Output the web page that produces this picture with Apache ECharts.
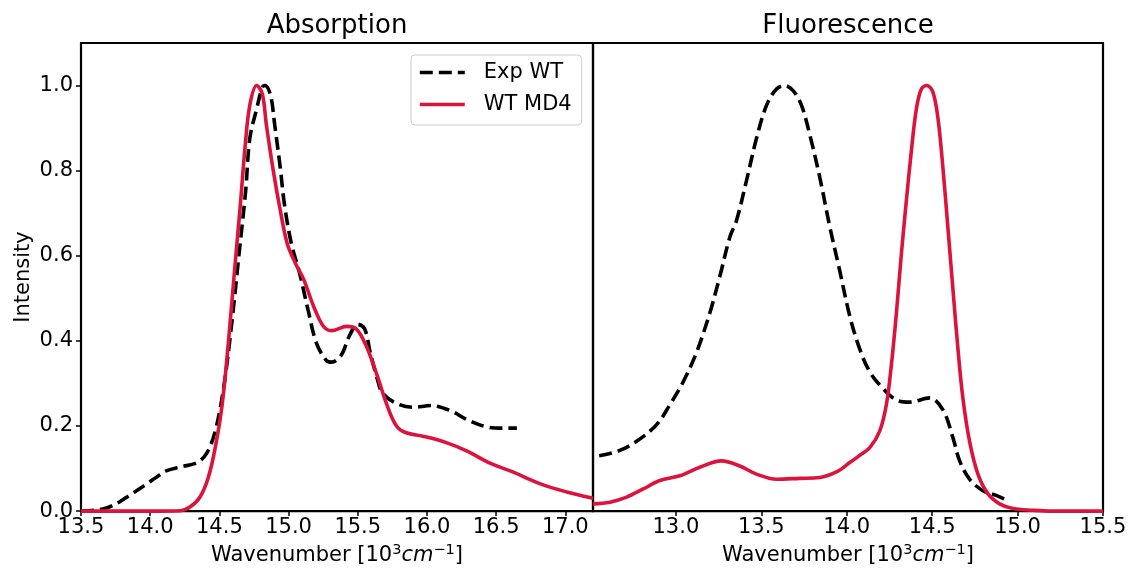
<!DOCTYPE html>
<html>
<head>
<meta charset="utf-8">
<script src="https://cdn.jsdelivr.net/npm/echarts@6/dist/echarts.min.js"></script>
<style>
  html, body { margin: 0; padding: 0; background: #fff; }
  #chart { width: 1131px; height: 574px; }
</style>
</head>
<body>
<div id="chart"></div>
<script>
// Absorption panel, [wavenumber (10^3 cm^-1), intensity]
const ABS_EXP = [
  [13.50, 0.000], [13.60, 0.002], [13.69, 0.008], [13.78, 0.022], [13.85, 0.037],
  [13.92, 0.052], [13.98, 0.065], [14.05, 0.081], [14.12, 0.095], [14.22, 0.104],
  [14.34, 0.114], [14.41, 0.137], [14.47, 0.188], [14.53, 0.288], [14.59, 0.443],
  [14.64, 0.598], [14.69, 0.753], [14.72, 0.876], [14.77, 0.946], [14.81, 0.996],
  [14.83, 1.000], [14.87, 0.977], [14.90, 0.907], [14.94, 0.807], [14.97, 0.721],
  [15.02, 0.629], [15.08, 0.559], [15.14, 0.474], [15.20, 0.396], [15.27, 0.355],
  [15.31, 0.350], [15.38, 0.366], [15.44, 0.412], [15.50, 0.439], [15.55, 0.428],
  [15.59, 0.373], [15.64, 0.312], [15.68, 0.277], [15.78, 0.253], [15.90, 0.244],
  [16.03, 0.248], [16.17, 0.236], [16.29, 0.215], [16.43, 0.198], [16.55, 0.195],
  [16.65, 0.195],
];
const ABS_MD4 = [
  [13.50, 0.000], [14.00, 0.000], [14.22, 0.001], [14.29, 0.010], [14.36, 0.033],
  [14.42, 0.079], [14.47, 0.149], [14.52, 0.250], [14.565, 0.396], [14.61, 0.567],
  [14.65, 0.714], [14.685, 0.853], [14.72, 0.954], [14.77, 1.000], [14.81, 0.981],
  [14.84, 0.907], [14.89, 0.799], [14.94, 0.707], [14.99, 0.629], [15.05, 0.582],
  [15.11, 0.544], [15.18, 0.482], [15.25, 0.435], [15.31, 0.424], [15.42, 0.434],
  [15.49, 0.428], [15.56, 0.389], [15.64, 0.319], [15.71, 0.250], [15.78, 0.200],
  [15.85, 0.184], [15.97, 0.176], [16.14, 0.161], [16.29, 0.141], [16.46, 0.112],
  [16.62, 0.092], [16.82, 0.064], [17.01, 0.045], [17.20, 0.030],
];

// Fluorescence panel
const FLU_EXP = [
  [12.551, 0.130], [12.662, 0.141], [12.770, 0.164], [12.887, 0.203], [12.965, 0.250],
  [13.043, 0.304], [13.121, 0.373], [13.199, 0.466], [13.257, 0.551], [13.316, 0.644],
  [13.355, 0.683], [13.413, 0.776], [13.472, 0.876], [13.531, 0.954], [13.589, 0.992],
  [13.637, 1.000], [13.686, 0.988], [13.735, 0.954], [13.784, 0.884], [13.842, 0.785],
  [13.900, 0.670], [13.959, 0.565], [14.018, 0.458], [14.076, 0.381], [14.135, 0.327],
  [14.213, 0.288], [14.291, 0.261], [14.368, 0.256], [14.485, 0.266], [14.563, 0.238],
  [14.622, 0.172], [14.661, 0.118], [14.719, 0.075], [14.797, 0.048], [14.875, 0.037],
  [14.943, 0.025],
];
const FLU_MD4 = [
  [12.515, 0.017], [12.614, 0.021], [12.712, 0.033], [12.809, 0.052], [12.906, 0.072],
  [13.023, 0.083], [13.140, 0.103], [13.267, 0.118], [13.374, 0.106], [13.472, 0.087],
  [13.589, 0.075], [13.725, 0.077], [13.842, 0.079], [13.940, 0.092], [14.018, 0.114],
  [14.076, 0.131], [14.135, 0.149], [14.193, 0.188], [14.232, 0.250], [14.261, 0.342],
  [14.291, 0.466], [14.320, 0.605], [14.349, 0.729], [14.378, 0.845], [14.408, 0.946],
  [14.437, 0.992], [14.469, 1.000], [14.504, 0.985], [14.534, 0.923], [14.563, 0.807],
  [14.592, 0.667], [14.622, 0.520], [14.651, 0.381], [14.680, 0.265], [14.719, 0.164],
  [14.768, 0.087], [14.826, 0.041], [14.895, 0.017], [14.973, 0.006], [15.090, 0.002],
  [15.200, 0.000], [15.500, 0.000],
];

// Tick values
const ABS_X_TICKS = [13.5, 14.0, 14.5, 15.0, 15.5, 16.0, 16.5, 17.0];
const FLU_X_TICKS = [13.0, 13.5, 14.0, 14.5, 15.0, 15.5];
const Y_TICKS = [0, 0.2, 0.4, 0.6, 0.8, 1.0];

const FONT = 'DejaVu Sans';
const RED = '#DC143C';
const LINE_W = 3.6;
const DASH = [13, 6];

const nameRich = {
  sup: { fontFamily: FONT, fontSize: 14.5, lineHeight: 14, verticalAlign: 'top', color: '#000' },
  it:  { fontFamily: FONT, fontSize: 21, fontStyle: 'italic', lineHeight: 26, color: '#000' },
};

function xAxisFor(gridIndex, min, max, ticks) {
  return {
    type: 'value',
    gridIndex,
    min,
    max,
    name: 'Wavenumber [10{sup|3}{it|cm}{sup|\u22121}]',
    nameLocation: 'middle',
    nameGap: 31,
    nameTextStyle: { fontFamily: FONT, fontSize: 21, color: '#000', lineHeight: 26, rich: nameRich },
    axisLine: { show: false },
    axisTick: { show: true, length: 5, lineStyle: { color: '#000', width: 1.5 }, customValues: ticks },
    axisLabel: {
      fontFamily: FONT, fontSize: 21, color: '#000', margin: 6,
      customValues: ticks,
      formatter: (v) => v.toFixed(1),
    },
    splitLine: { show: false },
  };
}

function lineSeries(name, xi, data, color, dashed) {
  return {
    name, type: 'line', xAxisIndex: xi, yAxisIndex: xi, data,
    smooth: 0.35, symbol: 'none', showSymbol: false,
    lineStyle: { color, width: LINE_W, type: dashed ? DASH : 'solid', cap: 'butt' },
    itemStyle: { color },
  };
}

const chart = echarts.init(document.getElementById('chart'));

chart.setOption({
  backgroundColor: '#fff',
  animation: false,
  title: [
    { text: 'Absorption', left: 337, top: 13, textAlign: 'center', padding: 0,
      textStyle: { fontFamily: FONT, fontSize: 26, fontWeight: 'normal', color: '#000' } },
    { text: 'Fluorescence', left: 848, top: 13, textAlign: 'center', padding: 0,
      textStyle: { fontFamily: FONT, fontSize: 26, fontWeight: 'normal', color: '#000' } },
  ],
  grid: [
    { left: 81, top: 43, width: 512, height: 475, show: true, borderColor: '#000', borderWidth: 2.2, backgroundColor: 'transparent' },
    { left: 593, top: 43, width: 510, height: 475, show: true, borderColor: '#000', borderWidth: 2.2, backgroundColor: 'transparent' },
  ],
  legend: {
    data: ['Exp WT', 'WT MD4'],
    orient: 'vertical',
    left: 411,
    top: 55,
    padding: [7, 10, 10, 7],
    itemGap: 11,
    itemWidth: 45,
    itemHeight: 14,
    backgroundColor: 'rgba(255,255,255,0.8)',
    borderColor: '#cccccc',
    borderWidth: 1,
    borderRadius: 4,
    itemStyle: { opacity: 0 },
    lineStyle: { width: LINE_W },
    textStyle: { fontFamily: FONT, fontSize: 21, color: '#000', padding: [0, 0, 0, 14] },
  },
  xAxis: [
    xAxisFor(0, 13.5, 17.2, ABS_X_TICKS),
    xAxisFor(1, 12.515, 15.5, FLU_X_TICKS),
  ],
  yAxis: [
    {
      type: 'value', gridIndex: 0, min: 0, max: 1.1,
      name: 'Intensity', nameLocation: 'middle', nameGap: 47,
      nameTextStyle: { fontFamily: FONT, fontSize: 21, color: '#000' },
      axisLine: { show: false },
      axisTick: { show: true, length: 5, lineStyle: { color: '#000', width: 1.5 }, customValues: Y_TICKS },
      axisLabel: { fontFamily: FONT, fontSize: 21, color: '#000', margin: 8, customValues: Y_TICKS, formatter: (v) => v.toFixed(1) },
      splitLine: { show: false },
    },
    {
      type: 'value', gridIndex: 1, min: 0, max: 1.1,
      axisLine: { show: false }, axisTick: { show: false }, axisLabel: { show: false },
      splitLine: { show: false },
    },
  ],
  series: [
    lineSeries('Exp WT', 0, ABS_EXP, '#000', true),
    lineSeries('WT MD4', 0, ABS_MD4, RED, false),
    lineSeries('Exp WT', 1, FLU_EXP, '#000', true),
    lineSeries('WT MD4', 1, FLU_MD4, RED, false),
  ],
});
</script>
</body>
</html>
